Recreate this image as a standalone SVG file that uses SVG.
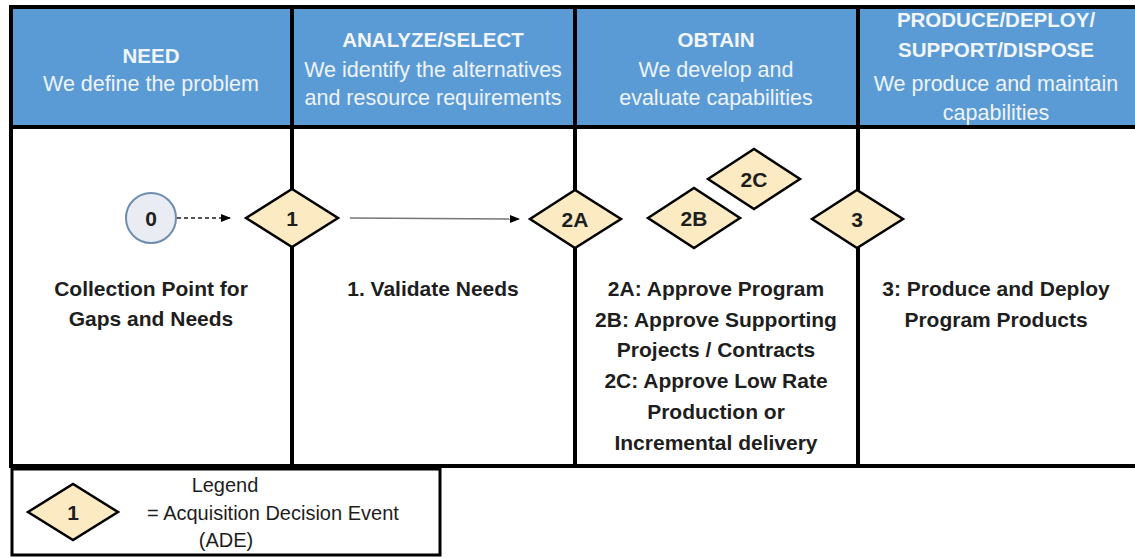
<svg xmlns="http://www.w3.org/2000/svg" width="1135" height="558" viewBox="0 0 1135 558">
<style>
.hdr{fill:#5B9BD5}
.grid{stroke:#000;stroke-width:4;fill:none}
.ht{font-family:"Liberation Sans",Arial,sans-serif;font-size:20.5px;font-weight:bold;fill:#F2F6FB;text-anchor:middle}
.hs{font-family:"Liberation Sans",Arial,sans-serif;font-size:21.5px;fill:#EEF3FA;text-anchor:middle}
.bt{font-family:"Liberation Sans",Arial,sans-serif;font-size:21px;font-weight:bold;fill:#1e1e1e;text-anchor:middle}
.dm{fill:#FCEBC2;stroke:#000;stroke-width:2.5;stroke-linejoin:miter}
.dt{font-family:"Liberation Sans",Arial,sans-serif;font-size:21px;font-weight:bold;fill:#1e1e1e;text-anchor:middle}
.lt{font-family:"Liberation Sans",Arial,sans-serif;font-size:20px;fill:#1e1e1e;text-anchor:middle}
.lts{font-family:"Liberation Sans",Arial,sans-serif;font-size:20px;fill:#1e1e1e;text-anchor:start}
</style>
<defs>
<marker id="ah" markerWidth="10" markerHeight="10" refX="9" refY="5" orient="auto" markerUnits="userSpaceOnUse">
<path d="M0,1 L10,5 L0,9 Z" fill="#000"/>
</marker>
</defs>
<rect width="1135" height="558" fill="#fff"/>
<g id="header">
<rect class="hdr" x="10" y="7" width="1125" height="120"/>
</g>
<g id="grid">
<line class="grid" x1="10" y1="7" x2="1135" y2="7"/>
<line class="grid" x1="10" y1="127" x2="1135" y2="127"/>
<line class="grid" x1="10" y1="466" x2="1135" y2="466"/>
<line class="grid" x1="11" y1="5" x2="11" y2="468"/>
<line class="grid" x1="292" y1="5" x2="292" y2="468"/>
<line class="grid" x1="575" y1="5" x2="575" y2="468"/>
<line class="grid" x1="858" y1="5" x2="858" y2="468"/>
</g>
<g id="col-need">
<text class="ht" x="151" y="63">NEED</text>
<text class="hs" x="151" y="91">We define the problem</text>
</g>
<g id="col-analyze">
<text class="ht" x="433" y="47">ANALYZE/SELECT</text>
<text class="hs" x="433" y="77">We identify the alternatives</text>
<text class="hs" x="433" y="105">and resource requirements</text>
</g>
<g id="col-obtain">
<text class="ht" x="716" y="47">OBTAIN</text>
<text class="hs" x="716" y="77">We develop and</text>
<text class="hs" x="716" y="105">evaluate capabilities</text>
</g>
<g id="col-produce">
<text class="ht" x="996" y="27">PRODUCE/DEPLOY/</text>
<text class="ht" x="996" y="57">SUPPORT/DISPOSE</text>
<text class="hs" x="996" y="91">We produce and maintain</text>
<text class="hs" x="996" y="120">capabilities</text>
</g>
<g id="connectors">
<line x1="177" y1="218" x2="230" y2="218" stroke="#555" stroke-width="2" stroke-dasharray="4,3" marker-end="url(#ah)"/>
<line x1="350" y1="218" x2="519" y2="219" stroke="#777" stroke-width="1.5" marker-end="url(#ah)"/>
</g>
<g id="node-0">
<circle cx="151" cy="218" r="25" fill="#E9EDF3" stroke="#6F8DAE" stroke-width="2"/>
<text class="dt" x="151" y="226">0</text>
</g>
<g id="node-1">
<polygon class="dm" points="246,218 292,189 338,218 292,247"/>
<text class="dt" x="292" y="226">1</text>
</g>
<g id="node-2A">
<polygon class="dm" points="530,219 575,190 621,219 575,248"/>
<text class="dt" x="575" y="227">2A</text>
</g>
<g id="node-2B">
<polygon class="dm" points="648,218 694,188 740,218 694,248"/>
<text class="dt" x="694" y="226">2B</text>
</g>
<g id="node-2C">
<polygon class="dm" points="708,179 754,149 800,179 754,209"/>
<text class="dt" x="754" y="187">2C</text>
</g>
<g id="node-3">
<polygon class="dm" points="812,219 857,190 903,219 857,248"/>
<text class="dt" x="857" y="227">3</text>
</g>
<g id="desc-need">
<text class="bt" x="151" y="296">Collection Point for</text>
<text class="bt" x="151" y="326">Gaps and Needs</text>
</g>
<g id="desc-analyze">
<text class="bt" x="433" y="296">1. Validate Needs</text>
</g>
<g id="desc-obtain">
<text class="bt" x="716" y="296">2A: Approve Program</text>
<text class="bt" x="716" y="327">2B: Approve Supporting</text>
<text class="bt" x="716" y="357">Projects / Contracts</text>
<text class="bt" x="716" y="388">2C: Approve Low Rate</text>
<text class="bt" x="716" y="419">Production  or</text>
<text class="bt" x="716" y="450">Incremental delivery</text>
</g>
<g id="desc-produce">
<text class="bt" x="996" y="296">3: Produce and Deploy</text>
<text class="bt" x="996" y="327">Program Products</text>
</g>
<g id="legend">
<rect x="12" y="469" width="428" height="86" fill="#fff" stroke="#000" stroke-width="3"/>
<polygon class="dm" points="28,512 73,484 118,512 73,540"/>
<text class="dt" x="73" y="520">1</text>
<text class="lt" x="225" y="492">Legend</text>
<text class="lts" x="147" y="520">= Acquisition Decision Event</text>
<text class="lt" x="226" y="547">(ADE)</text>
</g>
</svg>
